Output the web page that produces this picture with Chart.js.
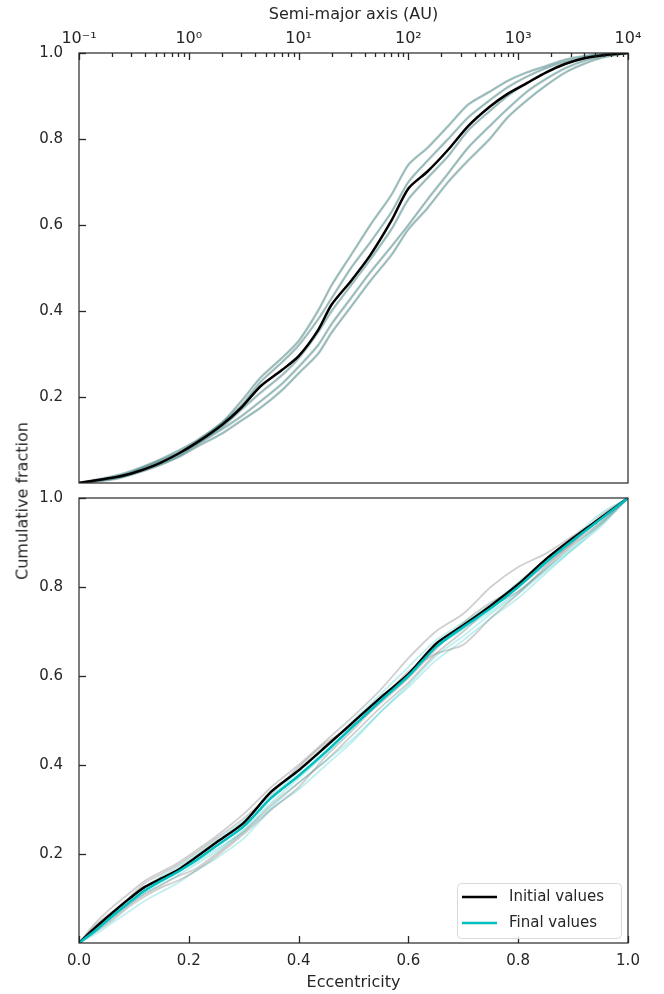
<!DOCTYPE html>
<html>
<head>
<meta charset="utf-8">
<script src="https://cdn.jsdelivr.net/npm/chart.js@4.4.1/dist/chart.umd.min.js"></script>
<style>
  body { margin: 0; background: #fff; }
  #wrap { position: relative; width: 664px; height: 994px; background: #fff; overflow: hidden; }
  #topChart { position: absolute; left: 0; top: 0; }
  #botChart { position: absolute; left: 0; top: 470px; }
  #ylab {
    position: absolute; left: 22px; top: 501px;
    transform: translate(-50%, -50%) rotate(-90deg);
    font: 16px "DejaVu Sans"; color: #262626; white-space: nowrap;
  }
</style>
</head>
<body>
<div id="wrap">
  <canvas id="topChart" width="664" height="500"></canvas>
  <canvas id="botChart" width="664" height="524"></canvas>
  <div id="ylab">Cumulative fraction</div>
</div>
<script>
// ---- semi-major axis panel (AU) ----
const semiGrid = [0.1, 0.2, 0.3, 0.5, 0.8, 1.2, 2, 3, 4.5, 7, 10, 15, 20, 30, 45, 70, 100, 150, 230, 350, 550, 800, 1200, 1800, 2700, 4000, 6000, 10000];
const semiInitial = [0, 0.012, 0.022, 0.042, 0.068, 0.095, 0.135, 0.175, 0.225, 0.262, 0.295, 0.355, 0.415, 0.47, 0.53, 0.61, 0.685, 0.725, 0.775, 0.83, 0.875, 0.905, 0.93, 0.955, 0.975, 0.988, 0.995, 1];
const semiRun1 = [0, 0.015, 0.028, 0.05, 0.075, 0.1, 0.14, 0.19, 0.245, 0.29, 0.33, 0.4, 0.46, 0.53, 0.6, 0.67, 0.74, 0.78, 0.83, 0.88, 0.91, 0.935, 0.955, 0.97, 0.985, 0.993, 0.998, 1];
const semiRun2 = [0, 0.01, 0.025, 0.048, 0.07, 0.098, 0.14, 0.18, 0.235, 0.28, 0.32, 0.38, 0.43, 0.5, 0.56, 0.63, 0.7, 0.75, 0.8, 0.85, 0.89, 0.92, 0.945, 0.965, 0.98, 0.99, 0.997, 1];
const semiRun3 = [0, 0.008, 0.02, 0.04, 0.062, 0.09, 0.125, 0.155, 0.19, 0.23, 0.27, 0.32, 0.37, 0.43, 0.49, 0.55, 0.6, 0.66, 0.72, 0.78, 0.83, 0.87, 0.91, 0.94, 0.965, 0.982, 0.993, 1];
const semiRun4 = [0, 0.01, 0.02, 0.038, 0.06, 0.085, 0.115, 0.145, 0.175, 0.215, 0.255, 0.3, 0.35, 0.41, 0.47, 0.53, 0.59, 0.64, 0.7, 0.75, 0.8, 0.85, 0.89, 0.925, 0.955, 0.975, 0.99, 1];
const semiRun5 = [0, 0.012, 0.024, 0.045, 0.066, 0.093, 0.13, 0.17, 0.21, 0.25, 0.29, 0.35, 0.4, 0.46, 0.52, 0.59, 0.66, 0.71, 0.76, 0.82, 0.865, 0.9, 0.93, 0.955, 0.975, 0.988, 0.996, 1];

// ---- eccentricity panel ----
const eccGrid = [0, 0.03, 0.06, 0.09, 0.12, 0.15, 0.18, 0.21, 0.25, 0.3, 0.35, 0.4, 0.45, 0.5, 0.55, 0.6, 0.65, 0.7, 0.75, 0.8, 0.85, 0.9, 0.95, 1.0];
const eccInitial = [0, 0.035, 0.067, 0.098, 0.126, 0.145, 0.164, 0.19, 0.226, 0.27, 0.34, 0.388, 0.442, 0.497, 0.552, 0.604, 0.672, 0.714, 0.758, 0.806, 0.862, 0.91, 0.955, 1];
const eccFinal = [0, 0.028, 0.06, 0.09, 0.118, 0.14, 0.16, 0.183, 0.218, 0.262, 0.326, 0.376, 0.43, 0.488, 0.545, 0.6, 0.665, 0.71, 0.752, 0.8, 0.855, 0.905, 0.952, 1];
const eccInitRun1 = [0, 0.045, 0.08, 0.11, 0.14, 0.16, 0.18, 0.205, 0.24, 0.29, 0.35, 0.4, 0.455, 0.51, 0.57, 0.64, 0.7, 0.74, 0.8, 0.845, 0.875, 0.915, 0.955, 1];
const eccInitRun2 = [0, 0.03, 0.055, 0.085, 0.11, 0.13, 0.15, 0.165, 0.2, 0.25, 0.31, 0.36, 0.41, 0.47, 0.53, 0.585, 0.65, 0.7, 0.755, 0.79, 0.84, 0.895, 0.94, 1];
const eccInitRun3 = [0, 0.04, 0.07, 0.1, 0.135, 0.155, 0.175, 0.2, 0.235, 0.28, 0.335, 0.395, 0.45, 0.49, 0.54, 0.595, 0.66, 0.72, 0.765, 0.8, 0.85, 0.9, 0.96, 1];
const eccInitRun4 = [0, 0.025, 0.05, 0.08, 0.105, 0.125, 0.14, 0.16, 0.195, 0.245, 0.3, 0.35, 0.42, 0.48, 0.545, 0.61, 0.65, 0.67, 0.73, 0.785, 0.845, 0.9, 0.945, 1];
const eccFinRun1 = [0, 0.02, 0.045, 0.07, 0.095, 0.115, 0.135, 0.16, 0.19, 0.235, 0.3, 0.345, 0.4, 0.455, 0.52, 0.575, 0.635, 0.68, 0.73, 0.775, 0.83, 0.885, 0.94, 1];
const eccFinRun2 = [0, 0.035, 0.065, 0.095, 0.125, 0.15, 0.17, 0.195, 0.23, 0.275, 0.33, 0.385, 0.44, 0.5, 0.56, 0.62, 0.68, 0.72, 0.76, 0.81, 0.86, 0.91, 0.965, 1];
const eccFinRun3 = [0, 0.025, 0.055, 0.085, 0.112, 0.132, 0.152, 0.175, 0.205, 0.255, 0.315, 0.37, 0.425, 0.485, 0.55, 0.605, 0.665, 0.705, 0.745, 0.79, 0.84, 0.89, 0.945, 1];
const eccFinRun4 = [0, 0.03, 0.06, 0.088, 0.115, 0.138, 0.16, 0.18, 0.21, 0.25, 0.305, 0.36, 0.41, 0.46, 0.52, 0.58, 0.645, 0.69, 0.74, 0.785, 0.835, 0.885, 0.935, 1];

// ---- ticks / labels ----
const semiTickValues = [0.1, 1, 10, 100, 1000, 10000];
const semiTickLabels = ['10\u207B\u00B9', '10\u2070', '10\u00B9', '10\u00B2', '10\u00B3', '10\u2074'];
const fracTicks = [0.2, 0.4, 0.6, 0.8, 1.0];
const eccTicks = [0, 0.2, 0.4, 0.6, 0.8, 1.0];

const ink = '#262626';
const FONT = '"DejaVu Sans"';
const grayRun = 'rgba(128,128,128,0.38)';
const cyanRun = 'rgba(0,191,191,0.25)';
const cyanMain = 'rgb(0,191,191)';

Chart.defaults.font.family = FONT;
Chart.defaults.color = ink;

function pts(xs, ys) {
  return xs.map((x, i) => ({ x: x, y: ys[i] }));
}

function line(xs, ys, color, width, extra) {
  return Object.assign({
    data: pts(xs, ys), borderColor: color, borderWidth: width,
    pointRadius: 0, fill: false, tension: 0.25, order: 2
  }, extra || {});
}

// inward ticks + full frame
const frameTicks = {
  id: 'frameTicks',
  afterDraw(chart, args, opts) {
    const { ctx, chartArea: a, scales } = chart;
    const xs = scales.x, ys = scales.y;
    ctx.save();
    ctx.strokeStyle = ink;
    ctx.lineWidth = 1.3;
    const seg = (x1, y1, x2, y2) => {
      ctx.beginPath(); ctx.moveTo(x1, y1); ctx.lineTo(x2, y2); ctx.stroke();
    };
    fracTicks.forEach(v => {
      const p = Math.round(ys.getPixelForValue(v)) + 0.5;
      seg(a.left, p, a.left + 7, p);
    });
    if (opts.side === 'top') {
      for (let k = -1; k < 4; k++) {
        for (let m = 2; m < 10; m++) {
          const p = Math.round(xs.getPixelForValue(m * Math.pow(10, k))) + 0.5;
          seg(p, a.top, p, a.top + 4);
        }
      }
      semiTickValues.forEach(v => {
        const p = Math.round(xs.getPixelForValue(v)) + 0.5;
        seg(p, a.top, p, a.top + 7);
      });
    } else {
      eccTicks.forEach(v => {
        const p = Math.round(xs.getPixelForValue(v)) + 0.5;
        seg(p, a.bottom, p, a.bottom - 7);
      });
    }
    ctx.lineWidth = 1.2;
    ctx.strokeRect(a.left, a.top, a.right - a.left, a.bottom - a.top);
    ctx.restore();
  }
};

// legend box inside the lower panel
const legendBox = {
  id: 'legendBox',
  afterDraw(chart) {
    const { ctx, chartArea: a } = chart;
    const items = chart.data.datasets.filter(d => d.label);
    const w = 164, h = 55;
    const x0 = a.right - 7 - w, y0 = a.bottom - 5 - h;
    ctx.save();
    ctx.beginPath();
    ctx.roundRect(x0 + 0.5, y0 + 0.5, w, h, 4);
    ctx.fillStyle = 'rgba(255,255,255,0.85)';
    ctx.fill();
    ctx.strokeStyle = '#d9d9d9';
    ctx.lineWidth = 1;
    ctx.stroke();
    ctx.font = '15px ' + FONT;
    ctx.textBaseline = 'middle';
    items.forEach((d, i) => {
      const yy = y0 + 14 + i * 26;
      ctx.strokeStyle = d.borderColor;
      ctx.lineWidth = 2.5;
      ctx.beginPath();
      ctx.moveTo(x0 + 5, yy); ctx.lineTo(x0 + 40, yy);
      ctx.stroke();
      ctx.fillStyle = ink;
      ctx.fillText(d.label, x0 + 52, yy);
    });
    ctx.restore();
  }
};

function yAxis() {
  return {
    type: 'linear', min: 0, max: 1,
    grid: { display: false },
    border: { display: false },
    afterBuildTicks: s => { s.ticks = fracTicks.map(v => ({ value: v })); },
    afterFit: s => { s.width = 79; },
    ticks: { padding: 8, font: { size: 15 }, color: ink, callback: v => v.toFixed(1) }
  };
}

// top panel: semi-major axis
const topSets = [line(semiGrid, semiInitial, '#000', 2.5, { order: 0 })];
[semiRun1, semiRun2, semiRun3, semiRun4, semiRun5].forEach(r => {
  topSets.push(line(semiGrid, r, 'rgba(128,128,128,0.35)', 2.6));
  topSets.push(line(semiGrid, r, 'rgba(0,165,165,0.4)', 1.6));
});

new Chart(document.getElementById('topChart'), {
  type: 'line',
  data: { datasets: topSets },
  plugins: [frameTicks],
  options: {
    responsive: false, animation: false, devicePixelRatio: 1,
    layout: { padding: { top: 0, right: 36, bottom: 2, left: 0 } },
    plugins: { legend: { display: false }, tooltip: { enabled: false }, frameTicks: { side: 'top' } },
    scales: {
      x: {
        type: 'logarithmic', position: 'top', min: 0.1, max: 10000,
        grid: { display: false }, border: { display: false },
        afterBuildTicks: s => { s.ticks = semiTickValues.map(v => ({ value: v })); },
        afterFit: s => { s.height = 53; },
        ticks: { autoSkip: false, maxRotation: 0, padding: -3, font: { size: 16 }, color: ink,
          callback: (v, i) => semiTickLabels[i] },
        title: { display: true, text: 'Semi-major axis (AU)', font: { size: 16 }, color: ink, padding: { top: 5, bottom: 0 } }
      },
      y: yAxis()
    }
  }
});

// bottom panel: eccentricity
const botSets = [
  line(eccGrid, eccInitial, '#000', 2.5, { order: 1, label: 'Initial values' }),
  line(eccGrid, eccFinal, cyanMain, 2.5, { order: 0, label: 'Final values' })
];
[eccInitRun1, eccInitRun2, eccInitRun3, eccInitRun4].forEach(r => botSets.push(line(eccGrid, r, grayRun, 1.8)));
[eccFinRun1, eccFinRun2, eccFinRun3, eccFinRun4].forEach(r => botSets.push(line(eccGrid, r, cyanRun, 1.8)));

new Chart(document.getElementById('botChart'), {
  type: 'line',
  data: { datasets: botSets },
  plugins: [frameTicks, legendBox],
  options: {
    responsive: false, animation: false, devicePixelRatio: 1,
    layout: { padding: { top: 28, right: 36, bottom: 0, left: 0 } },
    plugins: { legend: { display: false }, tooltip: { enabled: false }, frameTicks: { side: 'bottom' } },
    scales: {
      x: {
        type: 'linear', position: 'bottom', min: 0, max: 1,
        grid: { display: false }, border: { display: false },
        afterBuildTicks: s => { s.ticks = eccTicks.map(v => ({ value: v })); },
        afterFit: s => { s.height = 51; },
        ticks: { autoSkip: false, maxRotation: 0, padding: 1, font: { size: 15 }, color: ink, callback: v => v.toFixed(1) },
        title: { display: true, text: 'Eccentricity', font: { size: 16 }, color: ink, padding: { top: 0, bottom: 2 } }
      },
      y: yAxis()
    }
  }
});
</script>
</body>
</html>
